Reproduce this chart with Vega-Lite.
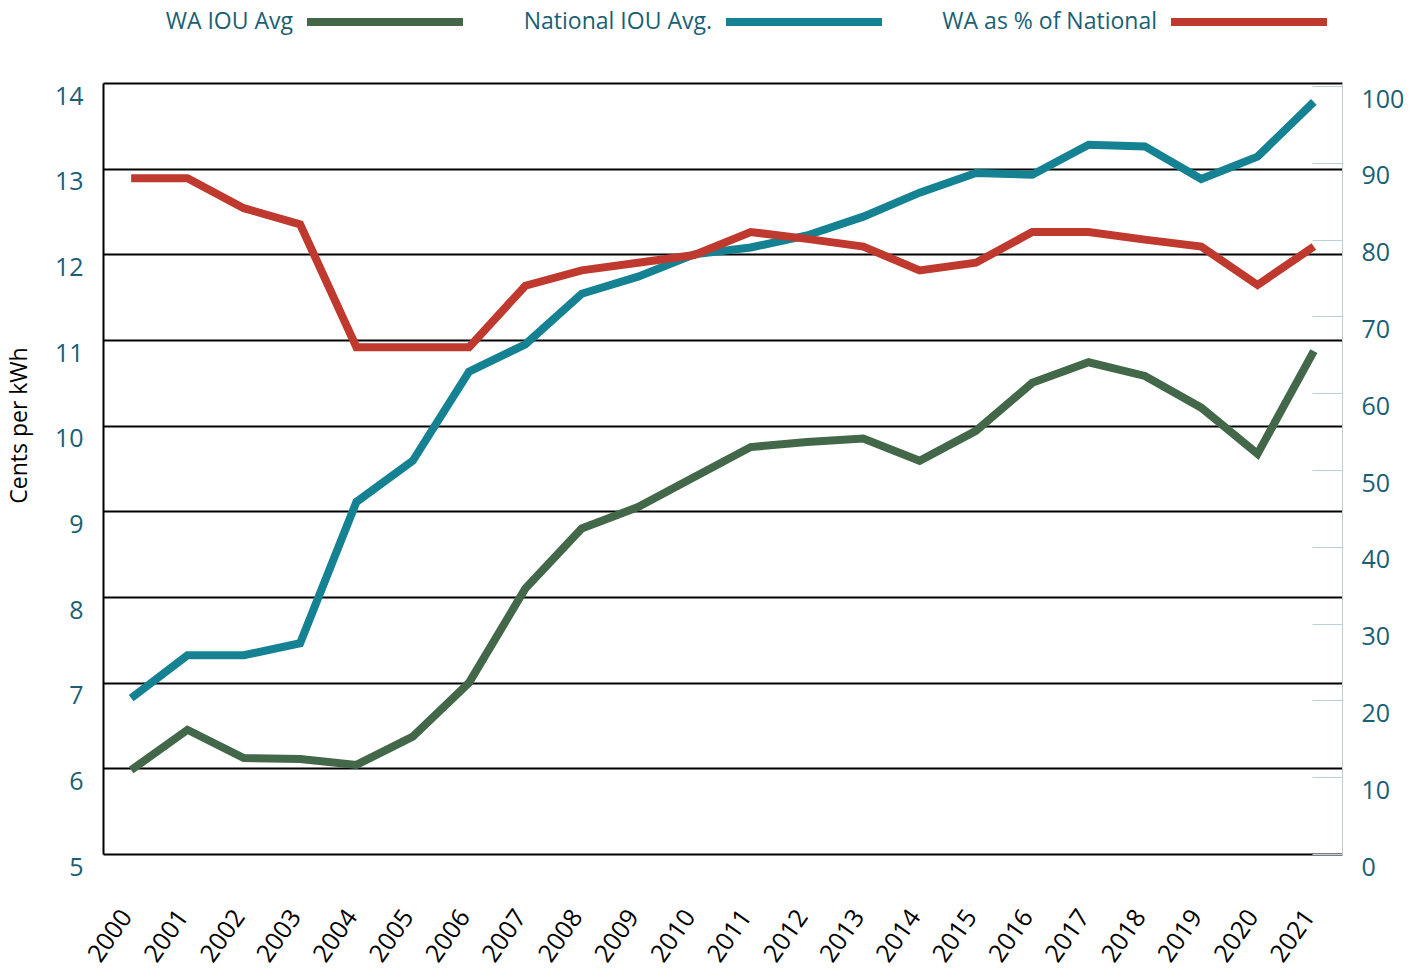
{
  "$schema": "https://vega.github.io/schema/vega-lite/v6.json",
  "width": 1239,
  "height": 771,
  "autosize": "none",
  "padding": {"left": 103, "top": 83, "right": 82, "bottom": 116},
  "background": "white",
  "config": {"font": "Open Sans", "view": {"stroke": null}},
  "datasets": {
    "rows": [
      {"year": "2000", "series": "WA IOU Avg", "value": 5.98},
      {"year": "2001", "series": "WA IOU Avg", "value": 6.45},
      {"year": "2002", "series": "WA IOU Avg", "value": 6.12},
      {"year": "2003", "series": "WA IOU Avg", "value": 6.11},
      {"year": "2004", "series": "WA IOU Avg", "value": 6.04},
      {"year": "2005", "series": "WA IOU Avg", "value": 6.37},
      {"year": "2006", "series": "WA IOU Avg", "value": 7.0},
      {"year": "2007", "series": "WA IOU Avg", "value": 8.1},
      {"year": "2008", "series": "WA IOU Avg", "value": 8.8},
      {"year": "2009", "series": "WA IOU Avg", "value": 9.05},
      {"year": "2010", "series": "WA IOU Avg", "value": 9.4},
      {"year": "2011", "series": "WA IOU Avg", "value": 9.75},
      {"year": "2012", "series": "WA IOU Avg", "value": 9.81},
      {"year": "2013", "series": "WA IOU Avg", "value": 9.85},
      {"year": "2014", "series": "WA IOU Avg", "value": 9.59},
      {"year": "2015", "series": "WA IOU Avg", "value": 9.94},
      {"year": "2016", "series": "WA IOU Avg", "value": 10.5},
      {"year": "2017", "series": "WA IOU Avg", "value": 10.74},
      {"year": "2018", "series": "WA IOU Avg", "value": 10.58},
      {"year": "2019", "series": "WA IOU Avg", "value": 10.21},
      {"year": "2020", "series": "WA IOU Avg", "value": 9.67},
      {"year": "2021", "series": "WA IOU Avg", "value": 10.87},
      {"year": "2000", "series": "National IOU Avg.", "value": 6.82},
      {"year": "2001", "series": "National IOU Avg.", "value": 7.32},
      {"year": "2002", "series": "National IOU Avg.", "value": 7.32},
      {"year": "2003", "series": "National IOU Avg.", "value": 7.46},
      {"year": "2004", "series": "National IOU Avg.", "value": 9.11},
      {"year": "2005", "series": "National IOU Avg.", "value": 9.59},
      {"year": "2006", "series": "National IOU Avg.", "value": 10.63},
      {"year": "2007", "series": "National IOU Avg.", "value": 10.95},
      {"year": "2008", "series": "National IOU Avg.", "value": 11.54},
      {"year": "2009", "series": "National IOU Avg.", "value": 11.74},
      {"year": "2010", "series": "National IOU Avg.", "value": 12.0},
      {"year": "2011", "series": "National IOU Avg.", "value": 12.08},
      {"year": "2012", "series": "National IOU Avg.", "value": 12.22},
      {"year": "2013", "series": "National IOU Avg.", "value": 12.44},
      {"year": "2014", "series": "National IOU Avg.", "value": 12.72},
      {"year": "2015", "series": "National IOU Avg.", "value": 12.95},
      {"year": "2016", "series": "National IOU Avg.", "value": 12.93},
      {"year": "2017", "series": "National IOU Avg.", "value": 13.28},
      {"year": "2018", "series": "National IOU Avg.", "value": 13.26},
      {"year": "2019", "series": "National IOU Avg.", "value": 12.88},
      {"year": "2020", "series": "National IOU Avg.", "value": 13.14},
      {"year": "2021", "series": "National IOU Avg.", "value": 13.78},
      {"year": "2000", "series": "WA as % of National", "value": 88.0},
      {"year": "2001", "series": "WA as % of National", "value": 88.0},
      {"year": "2002", "series": "WA as % of National", "value": 84.1},
      {"year": "2003", "series": "WA as % of National", "value": 82.0},
      {"year": "2004", "series": "WA as % of National", "value": 66.0},
      {"year": "2005", "series": "WA as % of National", "value": 66.0},
      {"year": "2006", "series": "WA as % of National", "value": 66.0},
      {"year": "2007", "series": "WA as % of National", "value": 74.0},
      {"year": "2008", "series": "WA as % of National", "value": 76.0},
      {"year": "2009", "series": "WA as % of National", "value": 77.0},
      {"year": "2010", "series": "WA as % of National", "value": 78.0},
      {"year": "2011", "series": "WA as % of National", "value": 81.0},
      {"year": "2012", "series": "WA as % of National", "value": 80.1},
      {"year": "2013", "series": "WA as % of National", "value": 79.1},
      {"year": "2014", "series": "WA as % of National", "value": 76.0},
      {"year": "2015", "series": "WA as % of National", "value": 77.0},
      {"year": "2016", "series": "WA as % of National", "value": 81.0},
      {"year": "2017", "series": "WA as % of National", "value": 81.0},
      {"year": "2018", "series": "WA as % of National", "value": 80.0},
      {"year": "2019", "series": "WA as % of National", "value": 79.1},
      {"year": "2020", "series": "WA as % of National", "value": 74.1},
      {"year": "2021", "series": "WA as % of National", "value": 79.1}
    ]
  },
  "data": {"name": "rows"},
  "encoding": {
    "x": {
      "field": "year",
      "type": "ordinal",
      "sort": null,
      "scale": {"padding": 0.5},
      "axis": {
        "title": null,
        "labelAngle": -55,
        "labelAlign": "right",
        "labelBaseline": "middle",
        "labelPadding": 58,
        "labelOffset": -5,
        "labelFontSize": 25,
        "labelColor": "black",
        "ticks": false,
        "domain": false,
        "grid": false
      }
    },
    "color": {
      "field": "series",
      "type": "nominal",
      "scale": {
        "domain": ["WA IOU Avg", "National IOU Avg.", "WA as % of National"],
        "range": ["#436749", "#148293", "#c0392e"]
      },
      "legend": {
        "orient": "none",
        "legendX": 200,
        "legendY": -143,
        "direction": "horizontal",
        "title": null,
        "symbolType": "stroke",
        "symbolStrokeWidth": 8,
        "symbolSize": 24336,
        "labelFontSize": 23,
        "labelColor": "#1a5f74",
        "labelAlign": "right",
        "labelOffset": -174,
        "labelLimit": 400,
        "columnPadding": 44
      }
    }
  },
  "layer": [
    {
      "transform": [{"filter": "datum.series !== 'WA as % of National'"}],
      "mark": {"type": "line", "strokeWidth": 8},
      "encoding": {
        "y": {
          "field": "value",
          "type": "quantitative",
          "scale": {"domain": [5, 14], "nice": false, "zero": false},
          "axis": {
            "title": "Cents per kWh",
            "titleColor": "black",
            "titleFontSize": 23,
            "titleFontWeight": "normal",
            "titlePadding": 23,
            "titleY": 342,
            "values": [5, 6, 7, 8, 9, 10, 11, 12, 13, 14],
            "labelColor": "#1a5f74",
            "labelFontSize": 25,
            "labelPadding": 20,
            "labelOffset": 13,
            "ticks": false,
            "domainColor": "black",
            "domainWidth": 2,
            "grid": true,
            "gridColor": "black",
            "gridWidth": 2
          }
        }
      }
    },
    {
      "transform": [{"filter": "datum.series === 'WA as % of National'"}],
      "mark": {"type": "line", "strokeWidth": 8},
      "encoding": {
        "y": {
          "field": "value",
          "type": "quantitative",
          "scale": {"domain": [0, 100.4], "nice": false, "zero": false},
          "axis": {
            "orient": "right",
            "title": null,
            "values": [0, 10, 20, 30, 40, 50, 60, 70, 80, 90, 100],
            "labelColor": "#1a5f74",
            "labelFontSize": 25,
            "labelPadding": 49,
            "labelOffset": 13,
            "labelAlign": "left",
            "tickSize": -30,
            "tickColor": "#bccfd7",
            "tickWidth": 1,
            "domainColor": "#bccfd7",
            "domainWidth": 1,
            "grid": false
          }
        }
      }
    }
  ],
  "resolve": {"scale": {"y": "independent"}}
}
